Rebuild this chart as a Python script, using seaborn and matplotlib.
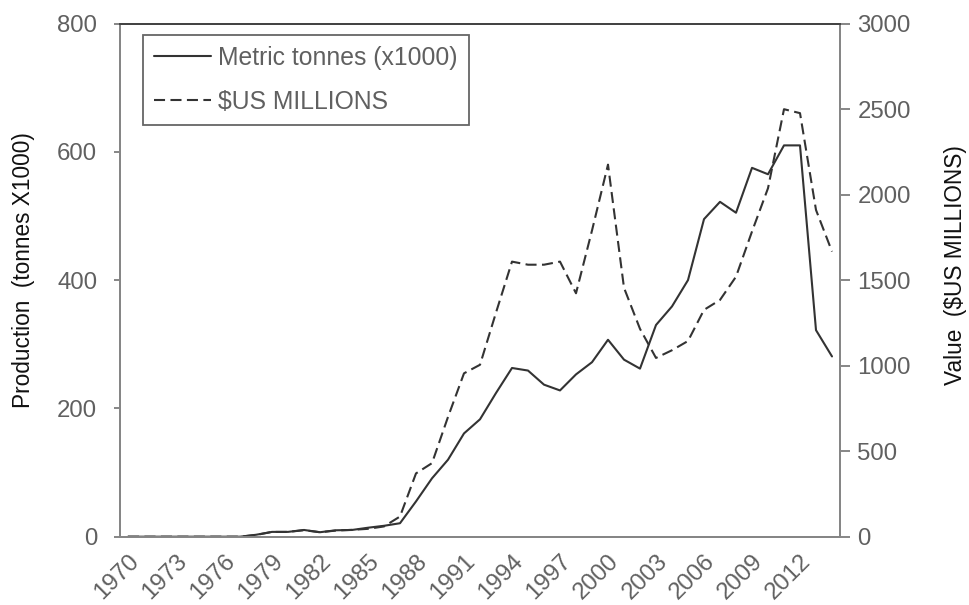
import matplotlib
matplotlib.use("Agg")
import matplotlib.pyplot as plt
import numpy as np
import pandas as pd
import seaborn as sns

# data
years = list(range(1970, 2015))
production = [0, 0, 0, 0, 0, 0, 0, 0, 3, 7.5,
              7.5, 10.5, 7, 10, 10.5, 14, 17, 21, 55, 91,
              120, 161, 183, 224, 263, 259, 237, 228, 253, 272,
              307, 276, 262, 330, 359, 400, 495, 522, 505, 575,
              565, 610, 610, 322, 281]
value_musd = [0, 0, 0, 0, 0, 0, 0, 0, 10, 28,
              28, 38, 26, 36, 40, 46, 60, 118, 370, 430,
              700, 955, 1005, 1310, 1608, 1590, 1590, 1608, 1423, 1790,
              2175, 1455, 1215, 1045, 1090, 1144, 1326, 1384, 1520, 1784,
              2037, 2499, 2476, 1910, 1667]
label_years = list(range(1970, 2013, 3))

df = pd.DataFrame({"year": years, "production": production, "value": value_musd})

sns.set_theme(style="white")
plt.rcParams["font.family"] = ["Liberation Sans", "DejaVu Sans"]

LINE = "#333333"
SPINE = "#868686"
TICKTXT = "#606060"
FS = 17.3      # tick labels
FS_LAB = 16.3  # axis titles
FS_LEG = 17.8  # legend

fig = plt.figure(figsize=(9.69, 6.05), dpi=100)
ax = fig.add_axes([120 / 969, 1 - 536.7 / 605, 720 / 969, 513.2 / 605])
ax2 = ax.twinx()

sns.lineplot(data=df, x="year", y="production", ax=ax, color=LINE, lw=1.5,
             label="Metric tonnes (x1000)", legend=False)
sns.lineplot(data=df, x="year", y="value", ax=ax2, color=LINE, lw=1.5,
             dashes=False, label="$US MILLIONS", legend=False)
ax2.lines[0].set_dashes((5.3, 2.6))

ax.set_xlim(1969.5, 2014.5)
ax.set_ylim(0, 800)
ax2.set_ylim(0, 3000)
ax.set_yticks([0, 200, 400, 600, 800])
ax2.set_yticks([0, 500, 1000, 1500, 2000, 2500, 3000])

# category style axis: labels every 3 years, ticks on boundaries every 2 years
ax.set_xticks(label_years)
ax.set_xticklabels([str(y) for y in label_years], rotation=45, ha="right",
                   rotation_mode="anchor")
ax.set_xticks(np.arange(1969.5, 2014, 2), minor=True)
ax.tick_params(axis="x", which="major", length=0, pad=10, labelsize=FS, labelcolor=TICKTXT)
ax.tick_params(axis="x", which="minor", length=6.5, width=1.4, color=SPINE, direction="out")
ax.tick_params(axis="y", length=4.3, width=1.4, color=SPINE, direction="out",
               pad=12, labelsize=FS, labelcolor=TICKTXT, left=True)
ax2.tick_params(axis="y", length=7, width=1.4, color=SPINE, direction="out",
                pad=5.5, labelsize=FS, labelcolor=TICKTXT, right=True)

ax.set_xlabel("")
ax.set_ylabel("Production  (tonnes X1000)", fontsize=FS_LAB, color="#111111")
ax2.set_ylabel("Value  ($US MILLIONS)", fontsize=FS_LAB, color="#111111")
ax.yaxis.set_label_coords(-0.1187, 0.52)
ax2.yaxis.set_label_coords(1.1444, 0.53)

for a in (ax, ax2):
    for s in a.spines.values():
        s.set_color(SPINE)
        s.set_linewidth(1.4)
    a.spines["top"].set_color("#444444")
    a.grid(False)

h1, l1 = ax.get_legend_handles_labels()
h2, l2 = ax2.get_legend_handles_labels()
leg = ax2.legend(h1 + h2, l1 + l2, loc="upper left", bbox_to_anchor=(0.032, 0.978),
                 borderaxespad=0, fontsize=FS_LEG, frameon=True, fancybox=False,
                 handlelength=2.3, handletextpad=0.3, labelspacing=0.8,
                 borderpad=0.45, labelcolor=TICKTXT)
leg.get_frame().set_edgecolor("#404040")
leg.get_frame().set_linewidth(1.3)

fig.savefig("out.png", dpi=100)
